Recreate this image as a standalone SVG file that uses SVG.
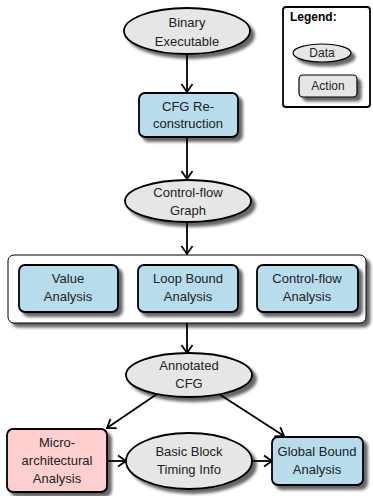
<svg xmlns="http://www.w3.org/2000/svg" width="373" height="496" viewBox="0 0 373 496">
<defs>
<filter id="sh" x="-20%" y="-20%" width="150%" height="160%">
<feGaussianBlur in="SourceAlpha" stdDeviation="1.5"/>
<feOffset dx="4" dy="4" result="b"/>
<feComponentTransfer><feFuncA type="linear" slope="0.6"/></feComponentTransfer>
<feMerge><feMergeNode/><feMergeNode in="SourceGraphic"/></feMerge>
</filter>
<marker id="ah" markerWidth="14" markerHeight="14" refX="11" refY="7" orient="auto" markerUnits="userSpaceOnUse">
<path d="M3,1.5 L11,7 L3,12.5" fill="none" stroke="#000" stroke-width="1.8"/>
</marker>
</defs>
<style>
text{font-family:"Liberation Sans",Arial,sans-serif;font-size:13px;fill:#222;text-anchor:middle}
.data{fill:#e6e6e6;stroke:#000;stroke-width:1.8}
.act{fill:#b7dcec;stroke:#000;stroke-width:1.8}
.act2{fill:#ffcfcf;stroke:#000;stroke-width:1.8}
.leg{fill:#e6e6e6;stroke:#000;stroke-width:1.2}
.edge{fill:none;stroke:#000;stroke-width:1.8;marker-end:url(#ah)}
</style>
<rect width="373" height="496" fill="#fff"/>
<g id="connectors">
<line class="edge" x1="187" y1="54" x2="187" y2="92"/>
<line class="edge" x1="187" y1="137" x2="187" y2="179"/>
<line class="edge" x1="187" y1="223" x2="187" y2="254"/>
<line class="edge" x1="187" y1="323" x2="187" y2="353"/>
<line class="edge" x1="157" y1="394" x2="107" y2="428"/>
<line class="edge" x1="219" y1="394" x2="284" y2="436"/>
<line class="edge" x1="107" y1="461" x2="126" y2="461"/>
<line class="edge" x1="251" y1="461" x2="272" y2="461"/>
</g>
<g id="binary">
<ellipse class="data" filter="url(#sh)" cx="187" cy="31" rx="63" ry="23"/>
<text x="187" y="27">Binary</text>
<text x="187" y="46">Executable</text>
</g>
<g id="cfgrecon">
<rect class="act" filter="url(#sh)" x="139" y="93" width="99" height="44" rx="6"/>
<text x="188" y="111">CFG Re-</text>
<text x="188" y="128">construction</text>
</g>
<g id="cfgraph">
<ellipse class="data" filter="url(#sh)" cx="188" cy="201" rx="63" ry="21"/>
<text x="188" y="197">Control-flow</text>
<text x="188" y="215">Graph</text>
</g>
<g id="analyses">
<rect filter="url(#sh)" x="8" y="255" width="358" height="68" rx="6" fill="#fff" stroke="#000" stroke-width="1"/>
</g>
<g id="value">
<rect class="act" filter="url(#sh)" x="19" y="265" width="99" height="47" rx="6"/>
<text x="68" y="283">Value</text>
<text x="68" y="301">Analysis</text>
</g>
<g id="loop">
<rect class="act" filter="url(#sh)" x="138" y="265" width="100" height="47" rx="6"/>
<text x="188" y="283">Loop Bound</text>
<text x="188" y="301">Analysis</text>
</g>
<g id="cflow">
<rect class="act" filter="url(#sh)" x="257" y="265" width="101" height="47" rx="6"/>
<text x="307" y="283">Control-flow</text>
<text x="307" y="301">Analysis</text>
</g>
<g id="annotated">
<ellipse class="data" filter="url(#sh)" cx="189" cy="375" rx="63" ry="22"/>
<text x="189" y="370">Annotated</text>
<text x="189" y="388">CFG</text>
</g>
<g id="micro">
<rect class="act2" filter="url(#sh)" x="7" y="429" width="100" height="63" rx="6"/>
<text x="57" y="447">Micro-</text>
<text x="57" y="465">architectural</text>
<text x="57" y="483">Analysis</text>
</g>
<g id="bbtiming">
<ellipse class="data" filter="url(#sh)" cx="189" cy="461" rx="63" ry="28"/>
<text x="189" y="456">Basic Block</text>
<text x="189" y="474">Timing Info</text>
</g>
<g id="global">
<rect class="act" filter="url(#sh)" x="272" y="437" width="91" height="48" rx="6"/>
<text x="317" y="456">Global Bound</text>
<text x="317" y="474">Analysis</text>
</g>
<g id="legend">
<rect x="283" y="7" width="87" height="100" rx="3" fill="#fff" stroke="#000" stroke-width="1.8"/>
<text x="290" y="21" style="text-anchor:start;font-weight:bold;font-size:12px;fill:#000">Legend:</text>
<ellipse class="leg" filter="url(#sh)" cx="322" cy="53" rx="29" ry="9"/>
<text x="322" y="57" style="font-size:12px">Data</text>
<rect class="leg" filter="url(#sh)" x="299" y="75" width="58" height="22" rx="4"/>
<text x="328" y="90" style="font-size:12px">Action</text>
</g>
</svg>
